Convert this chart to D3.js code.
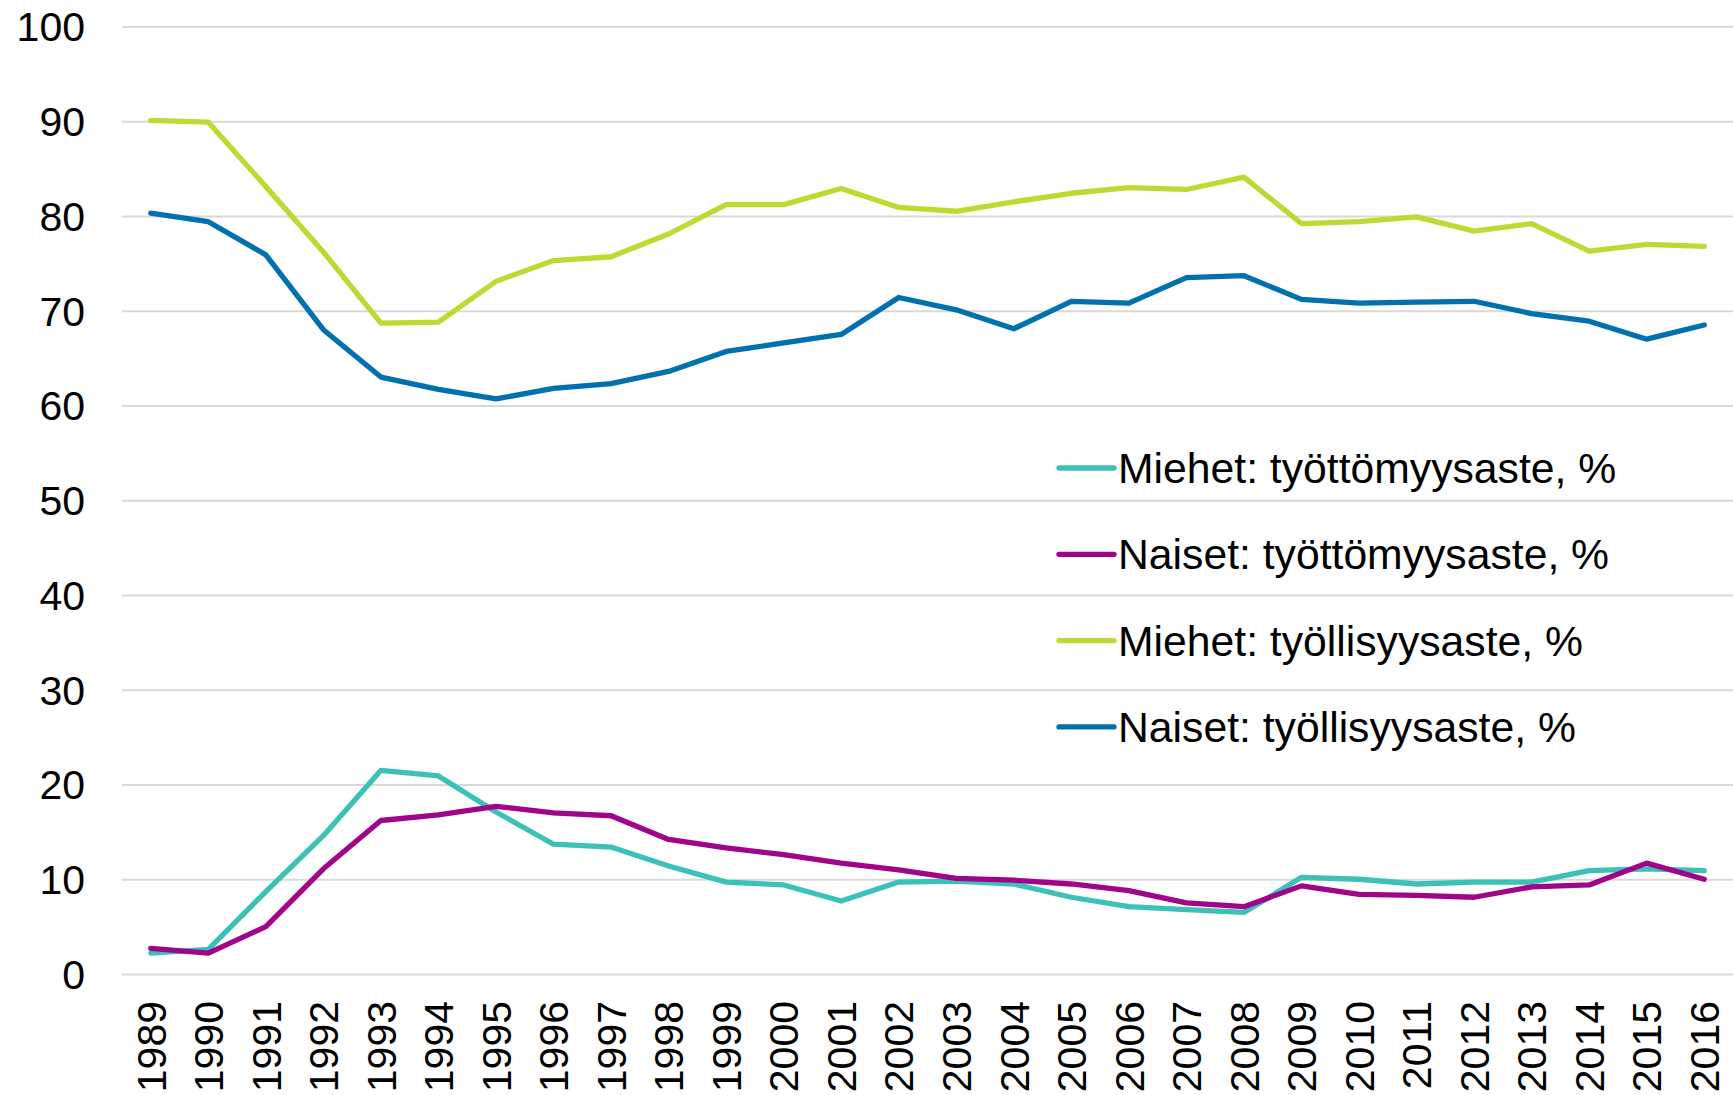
<!DOCTYPE html>
<html>
<head>
<meta charset="utf-8">
<script src="https://cdn.jsdelivr.net/npm/d3@7"></script>
<style>
  body { margin: 0; background: #fff; }
  svg text { font-family: "Liberation Sans", Arial, sans-serif; fill: #000; }
</style>
</head>
<body>
<div id="chart"></div>
<script>
// years on the x axis
var years = ["1989","1990","1991","1992","1993","1994","1995","1996","1997","1998",
  "1999","2000","2001","2002","2003","2004","2005","2006","2007","2008",
  "2009","2010","2011","2012","2013","2014","2015","2016"];

// series values, %
var miehetTyottomyys = [2.2, 2.6, 8.7, 14.6, 21.5, 20.9, 17.1, 13.7, 13.4, 11.4,
  9.7, 9.4, 7.7, 9.7, 9.8, 9.5, 8.1, 7.1, 6.8, 6.5,
  10.2, 10.0, 9.5, 9.7, 9.7, 10.9, 11.1, 10.9];
var naisetTyottomyys = [2.7, 2.2, 5.0, 11.1, 16.2, 16.8, 17.7, 17.0, 16.7, 14.2,
  13.3, 12.6, 11.7, 11.0, 10.1, 9.9, 9.5, 8.8, 7.5, 7.1,
  9.3, 8.4, 8.3, 8.1, 9.2, 9.4, 11.7, 10.0];
var miehetTyollisyys = [90.1, 89.9, 83.1, 76.2, 68.7, 68.8, 73.1, 75.3, 75.7, 78.1,
  81.2, 81.2, 82.9, 80.9, 80.5, 81.5, 82.4, 83.0, 82.8, 84.1,
  79.2, 79.4, 79.9, 78.4, 79.2, 76.3, 77.0, 76.8];
var naisetTyollisyys = [80.3, 79.4, 75.9, 68.0, 63.0, 61.7, 60.7, 61.8, 62.3, 63.6,
  65.7, 66.6, 67.5, 71.4, 70.1, 68.1, 71.0, 70.8, 73.5, 73.7,
  71.2, 70.8, 70.9, 71.0, 69.7, 68.9, 67.0, 68.5];

var seriesNames = ["Miehet: työttömyysaste, %", "Naiset: työttömyysaste, %",
  "Miehet: työllisyysaste, %", "Naiset: työllisyysaste, %"];
var seriesColors = ["#3CC1B8", "#A0048B", "#C2D832", "#0071AE"];
var yTicks = [0, 10, 20, 30, 40, 50, 60, 70, 80, 90, 100];

var series = [miehetTyottomyys, naisetTyottomyys, miehetTyollisyys, naisetTyollisyys]
  .map(function (vals, i) {
    return { name: seriesNames[i], color: seriesColors[i], values: vals };
  });

var W = 1733, H = 1095;
var plotLeft = 122, plotRight = 1733, plotTop = 26.5, plotBottom = 974;
var fontSize = 41;

var svg = d3.select("#chart").append("svg")
  .attr("width", W)
  .attr("height", H);

var x = d3.scaleBand()
  .domain(years)
  .range([plotLeft, plotRight]);

var y = d3.scaleLinear()
  .domain([0, 100])
  .range([plotBottom, plotTop]);

// y axis + gridlines
var yAxis = d3.axisLeft(y)
  .tickValues(yTicks)
  .tickSizeInner(-(plotRight - plotLeft))
  .tickSizeOuter(0)
  .tickPadding(37);

var gy = svg.append("g")
  .attr("class", "y-axis")
  .attr("transform", "translate(" + plotLeft + ",0)")
  .call(yAxis);
gy.select(".domain").remove();
gy.selectAll(".tick line")
  .attr("stroke", "#D9D9D9")
  .attr("stroke-width", 2);
gy.selectAll(".tick text")
  .style("font-size", fontSize + "px")
  .attr("dy", "0.35em");

// x axis, rotated year labels
var xAxis = d3.axisBottom(x).tickSize(0).tickPadding(0);
var gx = svg.append("g")
  .attr("class", "x-axis")
  .attr("transform", "translate(0," + plotBottom + ")")
  .call(xAxis);
gx.select(".domain").remove();
gx.selectAll(".tick text")
  .style("font-size", fontSize + "px")
  .attr("transform", "rotate(-90)")
  .attr("text-anchor", "end")
  .attr("x", -27)
  .attr("y", 0)
  .attr("dy", "0.36em");

// lines
var line = d3.line()
  .x(function (d, i) { return x(years[i]) + x.bandwidth() / 2; })
  .y(function (d) { return y(d); });

svg.selectAll(".series")
  .data(series)
  .enter()
  .append("path")
    .attr("class", "series")
    .attr("d", function (s) { return line(s.values); })
    .attr("fill", "none")
    .attr("stroke", function (s) { return s.color; })
    .attr("stroke-width", 5.3)
    .attr("stroke-linejoin", "round")
    .attr("stroke-linecap", "round");

// legend
var legendX = 1059, legendY = 468, legendStep = 86.3;
var legend = svg.selectAll(".legend")
  .data(series)
  .enter()
  .append("g")
    .attr("class", "legend")
    .attr("transform", function (d, i) {
      return "translate(" + legendX + "," + (legendY + i * legendStep) + ")";
    });

legend.append("line")
  .attr("x1", 0)
  .attr("x2", 55)
  .attr("stroke", function (d) { return d.color; })
  .attr("stroke-width", 5.3)
  .attr("stroke-linecap", "round");

legend.append("text")
  .attr("x", 59)
  .attr("dy", "0.35em")
  .style("font-size", "42.7px")
  .text(function (d) { return d.name; });
</script>
</body>
</html>
